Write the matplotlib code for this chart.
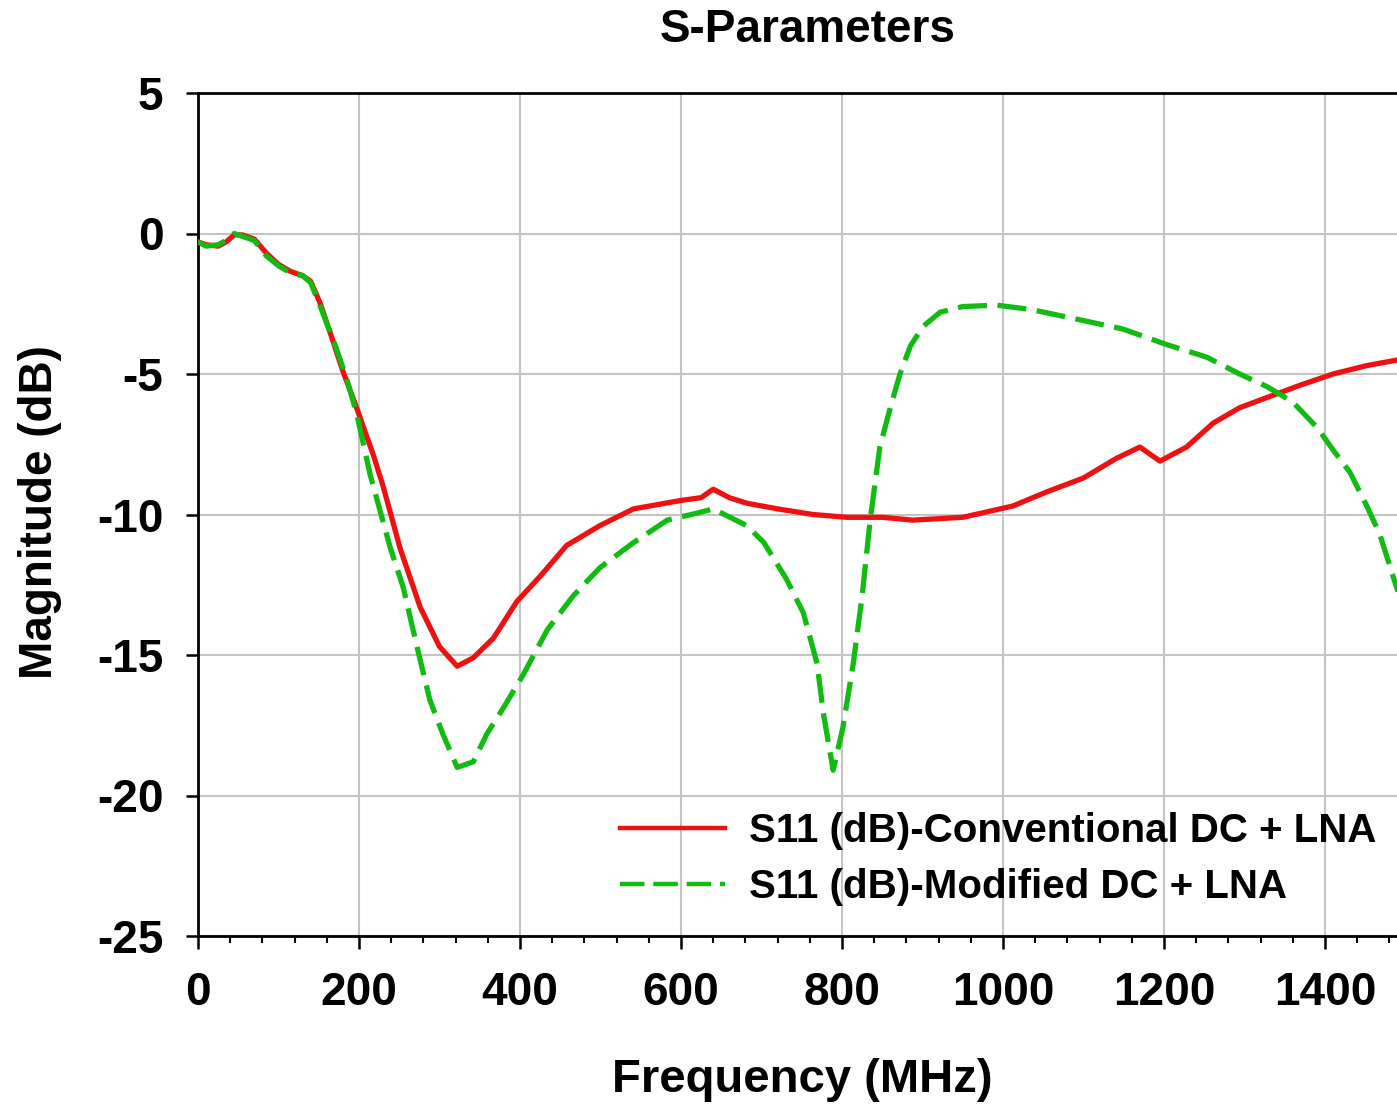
import matplotlib
matplotlib.use("Agg")
import matplotlib.pyplot as plt
from matplotlib.ticker import MultipleLocator

# ---- data ----
freq_conv = [0, 10, 25, 35, 45, 55, 70, 85, 100, 115, 130, 140, 152, 165, 180, 197,
             218, 230, 251, 276, 300, 322, 342, 367, 396, 425, 458, 499, 541, 600,
             625, 640, 660, 682, 720, 764, 806, 850, 888, 950, 1012, 1054, 1100, 1141,
             1170, 1195, 1228, 1261, 1294, 1336, 1369, 1410, 1452, 1500]
s11_conv = [-0.3, -0.4, -0.45, -0.3, -0.05, -0.05, -0.2, -0.7, -1.1, -1.35, -1.5, -1.7,
            -2.5, -3.6, -4.9, -6.2, -7.9, -9.0, -11.2, -13.3, -14.7, -15.4, -15.1, -14.4,
            -13.1, -12.2, -11.1, -10.4, -9.8, -9.5, -9.4, -9.1, -9.4, -9.6, -9.8, -10.0,
            -10.1, -10.1, -10.2, -10.1, -9.7, -9.2, -8.7, -8.0, -7.6, -8.1, -7.6, -6.75,
            -6.2, -5.75, -5.4, -5.0, -4.7, -4.45]

freq_mod = [0, 10, 25, 35, 45, 55, 70, 85, 100, 115, 130, 140, 152, 172, 185, 197, 214,
            239, 255, 272, 288, 304, 322, 342, 359, 379, 404, 434, 466, 499, 541, 583,
            620, 640, 682, 703, 731, 752, 769, 777, 789, 801, 814, 825, 835, 847, 860,
            872, 885, 901, 922, 950, 992, 1034, 1092, 1149, 1203, 1253, 1294, 1328, 1360,
            1390, 1410, 1431, 1452, 1468, 1489, 1500]
s11_mod = [-0.3, -0.45, -0.4, -0.25, 0.0, -0.1, -0.25, -0.8, -1.15, -1.4, -1.5, -1.75,
           -2.6, -4.1, -5.2, -6.4, -8.6, -11.2, -12.6, -14.7, -16.6, -17.8, -19.0, -18.8,
           -17.8, -16.9, -15.7, -14.1, -12.9, -11.9, -11.0, -10.2, -9.95, -9.8, -10.4,
           -11.0, -12.3, -13.5, -15.3, -17.1, -19.1, -17.6, -15.3, -12.9, -10.2, -7.6,
           -6.2, -5.0, -4.0, -3.3, -2.8, -2.6, -2.55, -2.7, -3.05, -3.4, -3.95, -4.4,
           -5.0, -5.45, -6.0, -6.9, -7.7, -8.5, -9.7, -10.7, -12.6, -13.5]

labels = ["S11 (dB)-Conventional DC + LNA", "S11 (dB)-Modified DC + LNA"]
title = "S-Parameters"
xlabel = "Frequency (MHz)"
ylabel = "Magnitude (dB)"
xticks = [0, 200, 400, 600, 800, 1000, 1200, 1400]
yticks = [5, 0, -5, -10, -15, -20, -25]

# ---- figure ----
plt.rcParams['font.family'] = ['Liberation Sans', 'DejaVu Sans']
plt.rcParams['font.weight'] = 'bold'
plt.rcParams['axes.unicode_minus'] = False
W, H = 1397, 1107
fig = plt.figure(figsize=(W / 100, H / 100), dpi=100)
left_px, right_px, top_px, bot_px = 198, 1405.5, 93, 936
ax = fig.add_axes([left_px / W, 1 - bot_px / H, (right_px - left_px) / W, (bot_px - top_px) / H])

ax.plot(freq_conv, s11_conv, color='#ee1111', lw=3.8, solid_joinstyle='round', label=labels[0], zorder=3)
ax.plot(freq_mod, s11_mod, color='#11bb11', lw=3.8, linestyle=(0, (5.5, 2)), label=labels[1], zorder=4)

ax.set_xlim(0, 1500)
ax.set_ylim(-25, 5)
ax.set_xticks(xticks)
ax.set_yticks(yticks)
ax.xaxis.set_minor_locator(MultipleLocator(40))
ax.grid(True, which='major', color='#c4c4c4', lw=1.5, zorder=0)
ax.set_axisbelow(True)

for s in ['left', 'bottom', 'top']:
    ax.spines[s].set_linewidth(2.0)
    ax.spines[s].set_color('black')
ax.spines['right'].set_visible(False)

ax.tick_params(axis='both', which='major', direction='out', length=9, width=1.8,
               labelsize=33, colors='black')
ax.tick_params(axis='x', which='major', pad=16)
ax.tick_params(axis='y', which='major', pad=16)
ax.tick_params(axis='x', which='minor', direction='out', length=5, width=1.5)
ax.tick_params(axis='y', which='minor', left=False)
for t in ax.get_xticklabels() + ax.get_yticklabels():
    t.set_fontweight('bold')

fig.text(808 / W, 1 - 30 / H, title, ha='center', va='center', fontsize=33, fontweight='bold')
fig.text(802 / W, 1 - 1080 / H, xlabel, ha='center', va='center', fontsize=34, fontweight='bold')
fig.text(40 / W, 1 - 512 / H, ylabel, ha='center', va='center', rotation=90, fontsize=33, fontweight='bold')

leg = ax.legend(loc='center left', bbox_to_anchor=(620 / W, 1 - 859 / H),
                bbox_transform=fig.transFigure, frameon=False,
                handlelength=2.6, handletextpad=0.6, labelspacing=0.45,
                borderpad=0, borderaxespad=0, prop={'weight': 'bold', 'size': 29})
for line in leg.get_lines():
    line.set_linewidth(3.2)

fig.savefig("out.png", dpi=100)
